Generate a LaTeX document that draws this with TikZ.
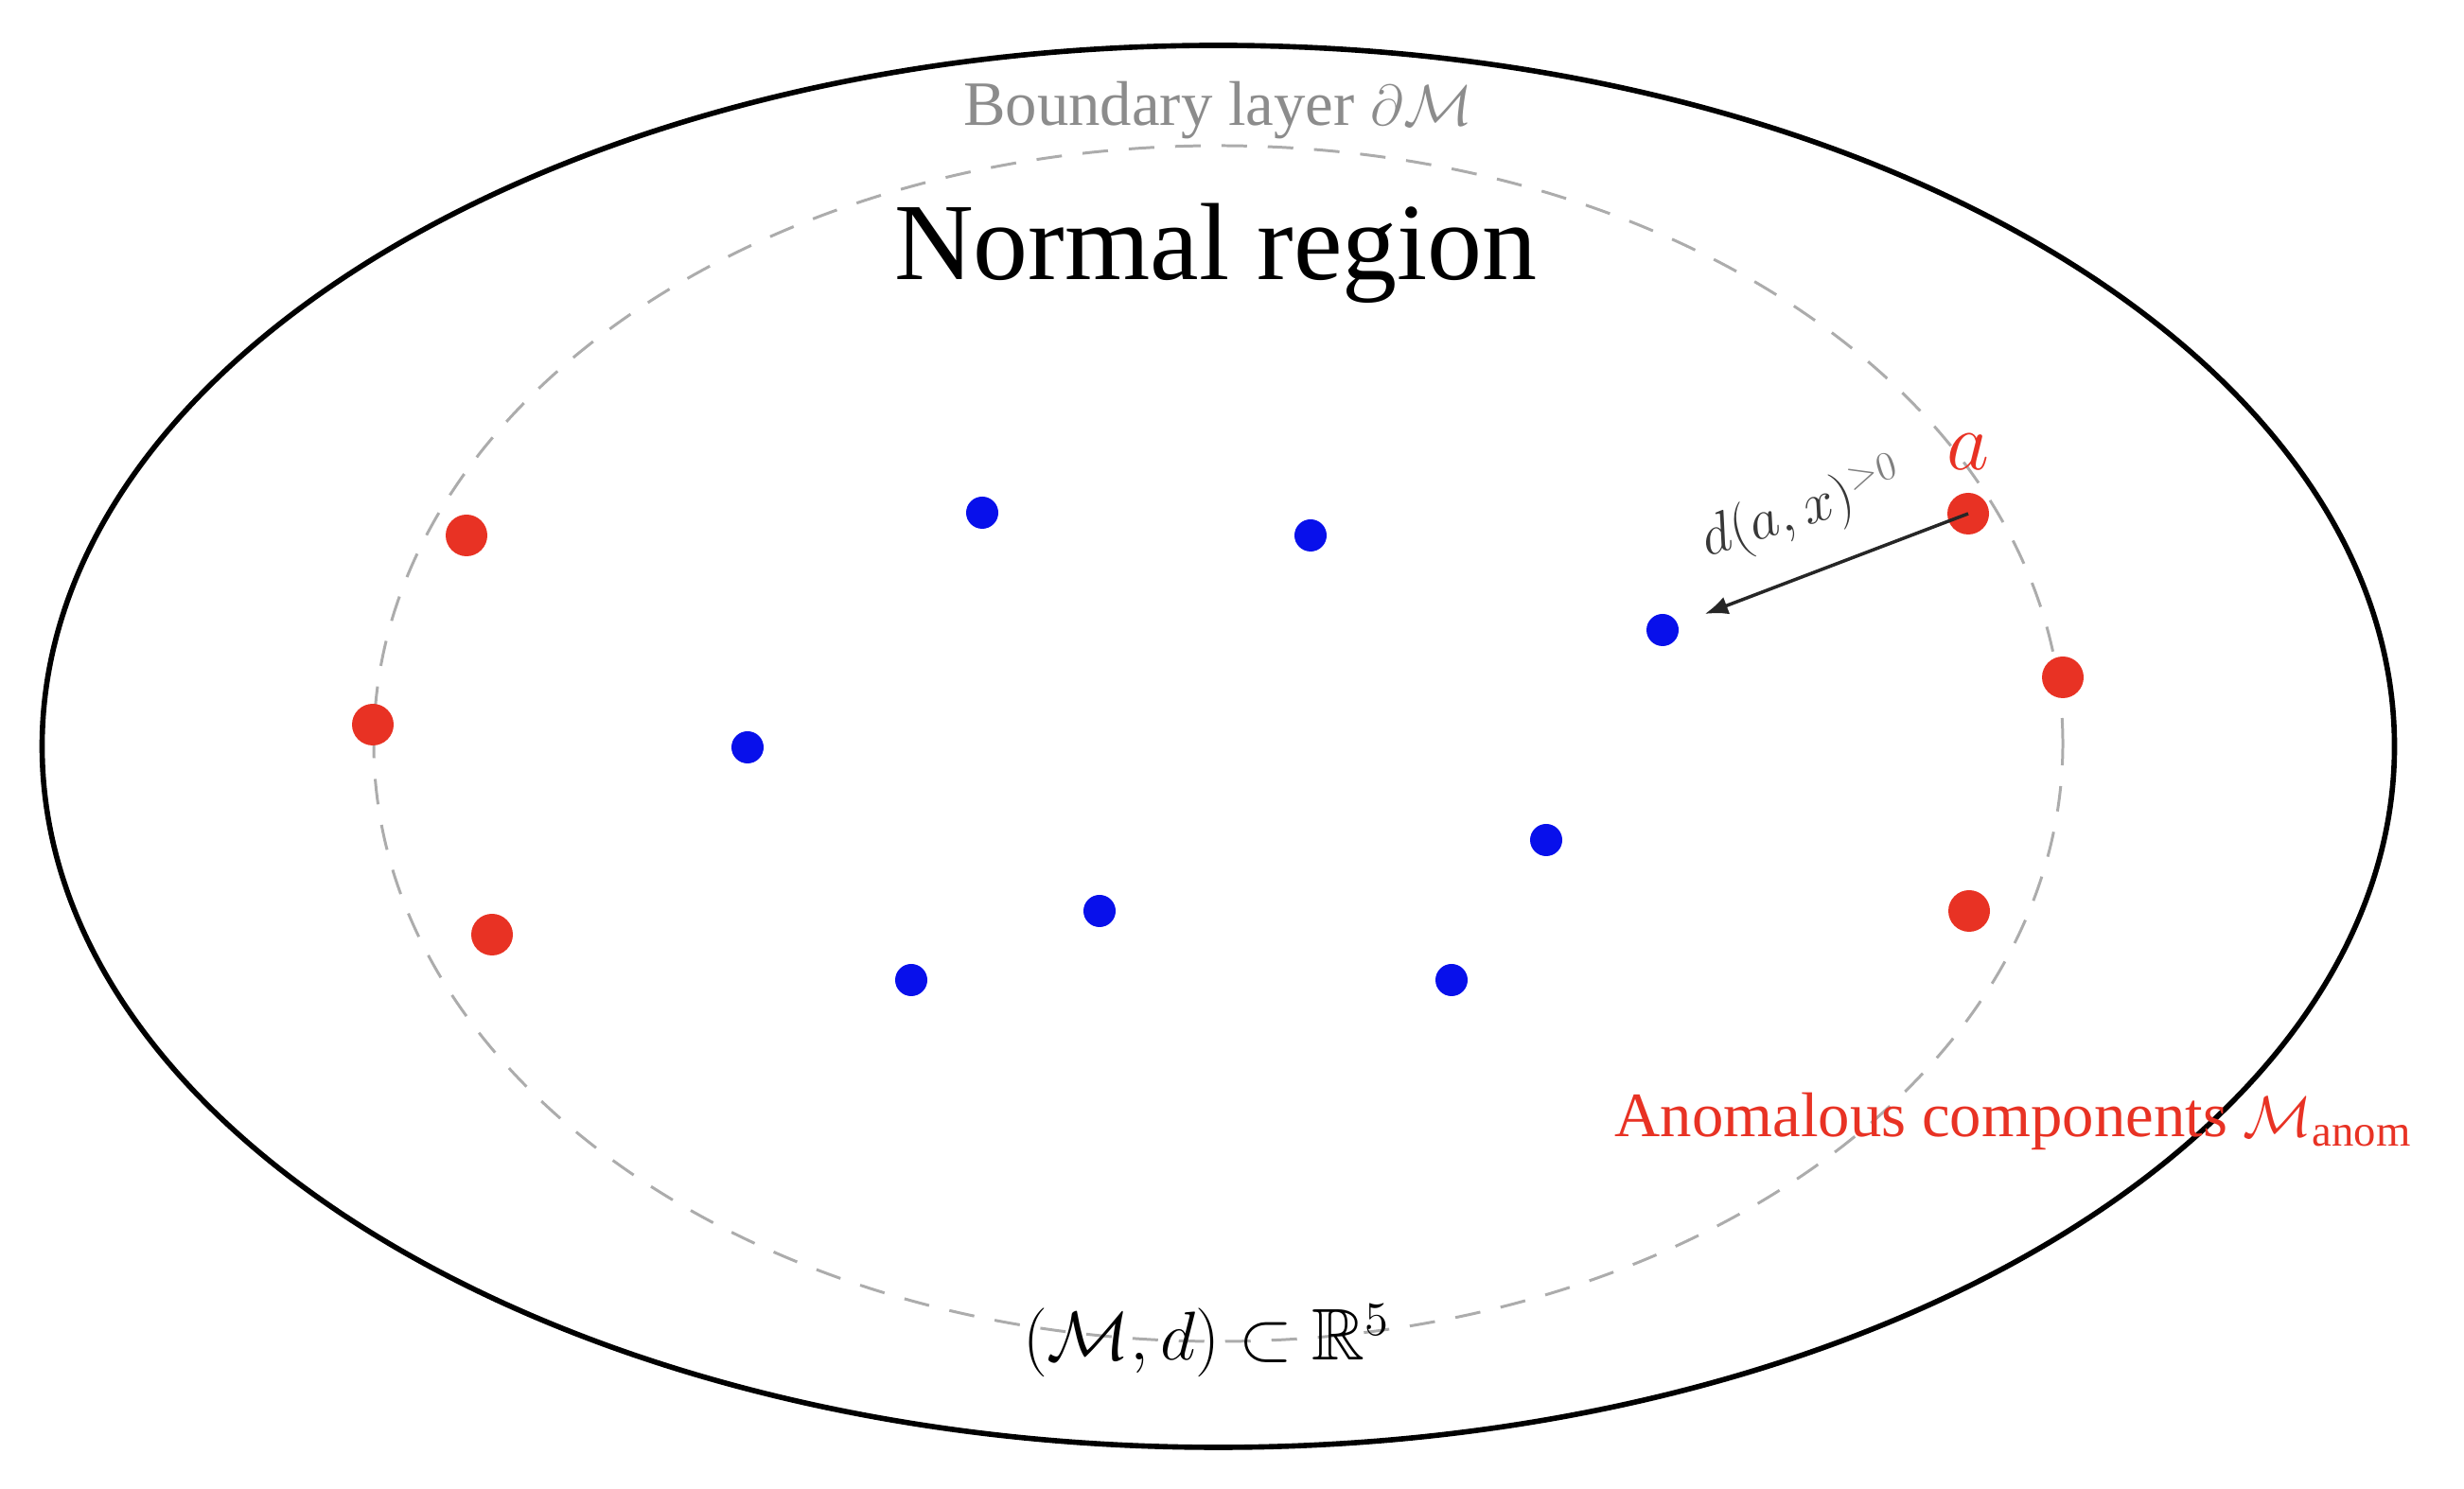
\documentclass[tikz,border=0pt]{standalone}
\usepackage{amssymb}
\usepackage{fontspec}
\setmainfont{Liberation Serif}
\usetikzlibrary{arrows.meta,positioning}
\definecolor{anomred}{RGB}{232,50,36}
\definecolor{normblue}{RGB}{8,16,235}
\definecolor{layergray}{RGB}{172,172,172}
\tikzset{
  anom/.style={circle,fill=anomred,inner sep=0pt,minimum size=4.4mm},
  normal/.style={circle,fill=normblue,inner sep=0pt,minimum size=3.4mm},
  layer/.style={layergray,line width=0.85pt,dash pattern=on 0.27cm off 0.22cm},
}
\begin{document}
\begin{tikzpicture}
\useasboundingbox (0,0) rectangle (26.04,15.74);
\draw[line width=1.6pt] (12.875,7.85) ellipse [x radius=12.43, y radius=7.41];
\draw[layer] (12.875,7.88) ellipse [x radius=8.925, y radius=6.32];
%
\node (boundary) at (12.87,14.41) [anchor=base,text=black!45,inner sep=0pt]
  {\fontsize{19}{22}\selectfont Boundary layer $\partial\mathcal{M}$};
\node (title) at (12.85,12.78) [anchor=base,inner sep=0pt]
  {\fontsize{33}{38}\selectfont Normal region};
\node (space) at (12.75,1.36) [anchor=base,inner sep=0pt]
  {\fontsize{22}{26}\selectfont $(\mathcal{M},d)\subset\mathbb{R}^5$};
\node (anomtext) at (17.06,3.72) [anchor=base west,text=anomred,inner sep=0pt]
  {\fontsize{19}{22}\selectfont Anomalous components $\mathcal{M}_{\mathrm{anom}}$};
%
\node (r1) at (4.93,10.08) [anom] {};
\node (r2) at (3.94,8.08)  [anom] {};
\node (r3) at (5.20,5.86)  [anom] {};
\node (a)  at (20.80,10.31) [anom] {};
\node (r5) at (21.80,8.58) [anom] {};
\node (r6) at (20.81,6.11) [anom] {};
%
\node (b1) at (10.38,10.32) [normal] {};
\node (b2) at (13.85,10.08) [normal] {};
\node (x)  at (17.57,9.08)  [normal] {};
\node (b4) at (7.90,7.84)   [normal] {};
\node (b5) at (16.34,6.86)  [normal] {};
\node (b6) at (11.62,6.11)  [normal] {};
\node (b7) at (9.63,5.38)   [normal] {};
\node (b8) at (15.34,5.38)  [normal] {};
%
\node (alabel) at (20.80,10.77) [anchor=base,text=anomred,inner sep=0pt]
  {\fontsize{24}{28}\selectfont $a$};
\node (dist) at (19.10,10.18) [anchor=base,rotate=17,inner sep=0pt,text=black!78]
  {\fontsize{16.5}{19}\selectfont $d(a,x)^{\textcolor{black!50}{>0}}$};
%
\draw[line width=1pt,black!85,-{Latex[length=7pt,width=5.5pt]},shorten >=0.3cm] (a.center) -- (x);
\end{tikzpicture}
\end{document}
